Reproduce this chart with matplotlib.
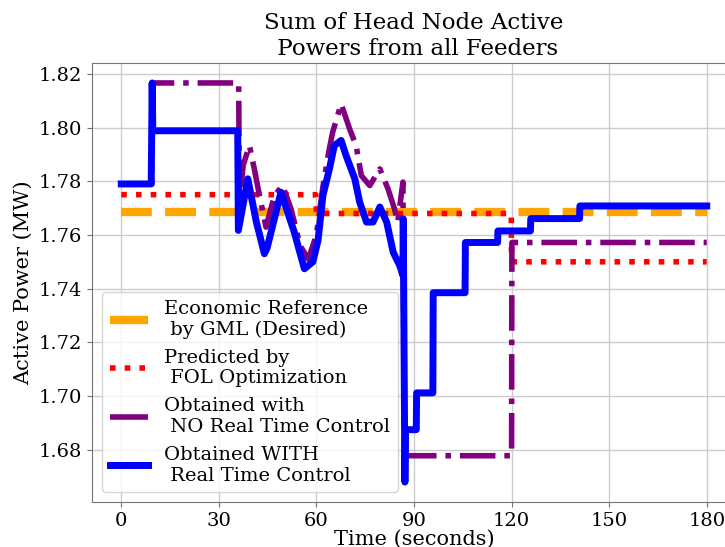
import numpy as np
import matplotlib
matplotlib.use("Agg")
import matplotlib.pyplot as plt
from matplotlib.lines import Line2D

plt.rcParams['font.family'] = ['DejaVu Serif']

# economic reference by GML (flat)
t_gml = [0, 180]
p_gml = [1.7687, 1.7687]

# FOL prediction (steps)
t_fol = [0, 59.8, 60.0, 119.9, 120.0, 180]
p_fol = [1.775, 1.775, 1.768, 1.768, 1.750, 1.750]

# without real time control
t_no = [0, 9.4, 9.6, 36.1, 36.3, 37.5, 39.4, 40.9, 42.5, 44.5, 47.1, 49.6, 52.2,
        55.0, 57.5, 60.0, 62.0, 63.8, 65.0, 67.6, 70.2, 72.2, 73.8, 76.4, 79.5,
        82.0, 84.0, 85.0, 86.6, 87.0, 88.0, 120.0, 120.1, 180]
p_no = [1.779, 1.779, 1.8166, 1.8166, 1.772, 1.786, 1.7933, 1.7846, 1.7747, 1.7629,
        1.7747, 1.7784, 1.7697, 1.756, 1.751, 1.760, 1.778, 1.791, 1.7983, 1.8088,
        1.7995, 1.7933, 1.7821, 1.7784, 1.7846, 1.7772, 1.7697, 1.7648, 1.7797,
        1.6778, 1.6778, 1.6778, 1.7572, 1.7572]

# with real time control
t_rt = [0, 9.2, 9.5, 9.7, 35.8, 36.0, 38.9, 41.5, 44.0, 44.8, 49.1, 53.2, 56.3,
        58.9, 60.5, 62.0, 64.0, 65.5, 67.6, 69.1, 71.8, 73.3, 75.4, 77.4, 79.5,
        81.6, 83.6, 85.6, 86.6, 86.7, 87.2, 87.4, 90.7, 90.8, 95.8, 95.9, 105.7,
        105.8, 115.7, 115.8, 125.8, 125.9, 140.9, 141.0, 180]
p_rt = [1.779, 1.779, 1.8166, 1.7988, 1.7988, 1.7617, 1.7809, 1.765, 1.753, 1.755,
        1.7759, 1.761, 1.7474, 1.750, 1.758, 1.7747, 1.7846, 1.7933, 1.7952, 1.7896,
        1.7809, 1.7722, 1.7648, 1.7648, 1.7704, 1.7648, 1.7536, 1.7486, 1.7449,
        1.766, 1.668, 1.6875, 1.6875, 1.7012, 1.7012, 1.7385, 1.7385, 1.7572, 1.7572,
        1.7615, 1.7615, 1.7661, 1.7661, 1.7708, 1.7708]

labels = ['Economic Reference\n by GML (Desired)',
          'Predicted by\n FOL Optimization',
          'Obtained with\n NO Real Time Control',
          'Obtained WITH\n Real Time Control']

fig = plt.figure(figsize=(7.25, 5.47), dpi=100)
ax = fig.add_axes([92 / 725, 1 - 502 / 547, 644 / 725, 439 / 547])

ax.plot(t_gml, p_gml, color='orange', linestyle='--', linewidth=6)
ax.plot(t_fol, p_fol, color='red', linestyle=':', linewidth=4)
ax.plot(t_no, p_no, color='purple', linestyle='-.', linewidth=4)
ax.plot(t_rt, p_rt, color='blue', linestyle='-', linewidth=5)

ax.set_xticks([0, 30, 60, 90, 120, 150, 180])
ax.set_yticks([1.68, 1.70, 1.72, 1.74, 1.76, 1.78, 1.80, 1.82])
ax.tick_params(labelsize=14, color='0.45')
for s in ax.spines.values():
    s.set_color('0.45')
ax.grid(True, color='#cccccc', linewidth=1)
ax.set_title('Sum of Head Node Active\n Powers from all Feeders', fontsize=16.5)
ax.set_xlabel('Time (seconds)', fontsize=15, labelpad=0)
ax.set_ylabel('Active Power (MW)', fontsize=15)

# legend swatches: short bars like in the original
handles = [Line2D([], [], color='orange', linewidth=6, solid_capstyle='butt'),
           Line2D([], [], color='red', linestyle=':', linewidth=4),
           Line2D([], [], color='purple', linewidth=4, solid_capstyle='butt'),
           Line2D([], [], color='blue', linewidth=5)]
ax.legend(handles, labels, loc='lower left', fontsize=14)

fig.savefig('out.png', dpi=100)
